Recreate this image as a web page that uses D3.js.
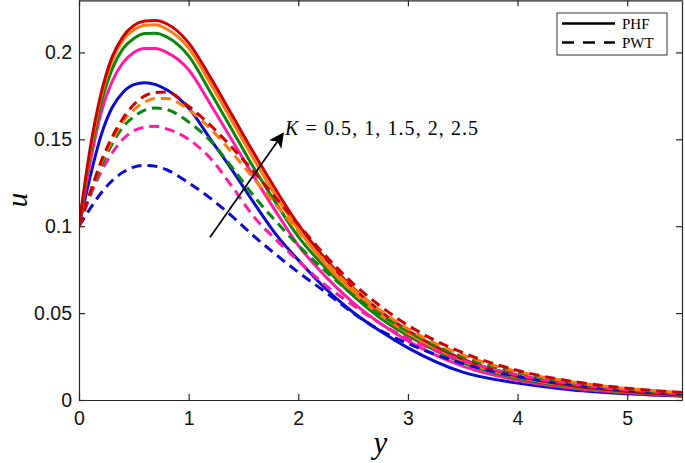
<!DOCTYPE html>
<html>
<head>
<meta charset="utf-8">
<script src="https://cdn.jsdelivr.net/npm/d3@7"></script>
<style>
    body { margin: 0; background: #fff; }
    .axis path, .axis line { stroke: #262626; stroke-width: 1.2; }
    .axis text { font-family: "Liberation Sans", Arial, sans-serif; font-size: 19.5px; fill: #111; }
</style>
</head>
<body>
<div id="chart-area"></div>
<script>

// y values (horizontal axis)
var yValues = [0, 0.1, 0.2, 0.3, 0.4, 0.5, 0.6, 0.7, 0.8, 1.0, 1.2, 1.4, 1.6, 1.8, 2.0, 2.25, 2.5, 2.75, 3.0, 3.5, 4.0, 4.5, 5.0, 5.5];

var kValues = [0.5, 1, 1.5, 2, 2.5];
var colors = ["#0a0ad0", "#ff1aa6", "#0a870a", "#ff7a0a", "#cc0000"];

// PHF (solid)
var phf05 = [0.100, 0.128, 0.152, 0.168, 0.177, 0.1815, 0.1826, 0.1815, 0.1785, 0.168, 0.150, 0.132, 0.113, 0.095, 0.0805, 0.064, 0.0505, 0.0395, 0.030, 0.016, 0.0097, 0.0058, 0.0036, 0.0022];
var phf1  = [0.100, 0.136, 0.165, 0.183, 0.194, 0.200, 0.2023, 0.2022, 0.200, 0.190, 0.170, 0.149, 0.128, 0.108, 0.089, 0.071, 0.056, 0.044, 0.034, 0.0195, 0.0113, 0.0067, 0.0041, 0.0025];
var phf15 = [0.100, 0.140, 0.170, 0.190, 0.202, 0.208, 0.2109, 0.2111, 0.209, 0.198, 0.177, 0.155, 0.133, 0.113, 0.094, 0.076, 0.060, 0.047, 0.037, 0.0215, 0.0125, 0.0075, 0.0045, 0.0027];
var phf2  = [0.100, 0.142, 0.174, 0.195, 0.207, 0.213, 0.2157, 0.2159, 0.2135, 0.2025, 0.182, 0.160, 0.138, 0.117, 0.098, 0.078, 0.062, 0.049, 0.0385, 0.0225, 0.0132, 0.0079, 0.0047, 0.0028];
var phf25 = [0.100, 0.144, 0.176, 0.197, 0.209, 0.2155, 0.2181, 0.2184, 0.2165, 0.2055, 0.1855, 0.1635, 0.1415, 0.1205, 0.101, 0.081, 0.0645, 0.051, 0.040, 0.0235, 0.0138, 0.0082, 0.0049, 0.0029];

// PWT (dashed)
var pwt05 = [0.100, 0.110, 0.119, 0.126, 0.131, 0.134, 0.135, 0.1345, 0.1325, 0.125, 0.116, 0.1055, 0.094, 0.0835, 0.0735, 0.062, 0.050, 0.040, 0.0325, 0.021, 0.0135, 0.0087, 0.0055, 0.0035];
var pwt1  = [0.100, 0.117, 0.131, 0.142, 0.150, 0.155, 0.157, 0.1575, 0.156, 0.150, 0.139, 0.1225, 0.105, 0.092, 0.080, 0.066, 0.0545, 0.044, 0.0355, 0.0228, 0.0145, 0.0092, 0.0058, 0.0037];
var pwt15 = [0.100, 0.118, 0.134, 0.147, 0.157, 0.163, 0.1668, 0.168, 0.1672, 0.160, 0.149, 0.1335, 0.117, 0.1025, 0.089, 0.074, 0.0605, 0.049, 0.0395, 0.0248, 0.0157, 0.0099, 0.0063, 0.004];
var pwt2  = [0.100, 0.119, 0.136, 0.149, 0.160, 0.167, 0.1715, 0.1735, 0.1735, 0.167, 0.156, 0.142, 0.127, 0.112, 0.097, 0.0795, 0.064, 0.0515, 0.041, 0.026, 0.0164, 0.0104, 0.0066, 0.0042];
var pwt25 = [0.100, 0.119, 0.137, 0.151, 0.162, 0.170, 0.175, 0.177, 0.1772, 0.169, 0.158, 0.145, 0.131, 0.116, 0.101, 0.083, 0.067, 0.054, 0.043, 0.0272, 0.0170, 0.0107, 0.0068, 0.0043];

var xTicks = [0, 1, 2, 3, 4, 5];
var xTickLabels = ["0", "1", "2", "3", "4", "5"];
var yTicks = [0, 0.05, 0.1, 0.15, 0.2];
var yTickLabels = ["0", "0.05", "0.1", "0.15", "0.2"];

var legendLabels = ["PHF", "PWT"];

// arrow annotation, in data units (tail, head)
var arrowTail = [1.195, 0.0937];
var arrowHead = [1.861, 0.1534];
var annotationPos = [1.88, 0.1523];


LineChart = function(_parentElement){
    this.parentElement = _parentElement;
    this.series = [];

    this.initVis();
}

LineChart.prototype.initVis = function(){
    var vis = this;

    vis.margin = { top: 0, right: 3, bottom: 63, left: 79 };
    vis.width = 685 - vis.margin.left - vis.margin.right;
    vis.height = 463 - vis.margin.top - vis.margin.bottom;

    vis.root = d3.select("#" + vis.parentElement).append("svg")
        .attr("width", 685)
        .attr("height", 463);

    vis.svg = vis.root.append("g")
        .attr("transform", "translate(" + vis.margin.left + "," + vis.margin.top + ")");

    vis.x = d3.scaleLinear().domain([0, 5.5]).range([0, vis.width]);
    vis.y = d3.scaleLinear().domain([0, 0.23]).range([vis.height, 0.3]);

    vis.svg.append("clipPath").attr("id", "clip")
        .append("rect").attr("width", vis.width).attr("height", vis.height);

    vis.wrangleData();
}

LineChart.prototype.wrangleData = function(){
    var vis = this;

    var solid = [phf05, phf1, phf15, phf2, phf25];
    var dashed = [pwt05, pwt1, pwt15, pwt2, pwt25];

    solid.forEach(function(arr, i){
        vis.series.push({ color: colors[i], dash: null,
            values: arr.map(function(v, j){ return [yValues[j], v]; }) });
    });
    dashed.forEach(function(arr, i){
        vis.series.push({ color: colors[i], dash: "10,6",
            values: arr.map(function(v, j){ return [yValues[j], v]; }) });
    });

    vis.updateVis();
}

LineChart.prototype.updateVis = function(){
    var vis = this;

    var line = d3.line()
        .x(function(d){ return vis.x(d[0]); })
        .y(function(d){ return vis.y(d[1]); })
        .curve(d3.curveMonotoneX);

    vis.svg.append("g").attr("clip-path", "url(#clip)")
        .selectAll(".curve")
        .data(vis.series)
        .enter().append("path")
        .attr("class", "curve")
        .attr("d", function(d){ return line(d.values); })
        .attr("fill", "none")
        .attr("stroke", function(d){ return d.color; })
        .attr("stroke-width", 3)
        .attr("stroke-dasharray", function(d){ return d.dash; });

    // axes, ticks pointing inward
    vis.svg.append("g").attr("class", "axis")
        .attr("transform", "translate(0," + vis.height + ")")
        .call(d3.axisBottom(vis.x).tickValues(xTicks)
            .tickFormat(function(d, i){ return xTickLabels[i]; })
            .tickSizeInner(-6).tickSizeOuter(0).tickPadding(11));

    vis.svg.append("g").attr("class", "axis")
        .call(d3.axisLeft(vis.y).tickValues(yTicks)
            .tickFormat(function(d, i){ return yTickLabels[i]; })
            .tickSizeInner(-6).tickSizeOuter(0).tickPadding(7));

    vis.svg.append("g").attr("class", "axis")
        .attr("transform", "translate(0," + vis.y.range()[1] + ")")
        .call(d3.axisTop(vis.x).tickValues(xTicks).tickFormat("")
            .tickSizeInner(-6).tickSizeOuter(0));

    vis.svg.append("g").attr("class", "axis")
        .attr("transform", "translate(" + vis.width + ",0)")
        .call(d3.axisRight(vis.y).tickValues(yTicks).tickFormat("")
            .tickSizeInner(-6).tickSizeOuter(0));

    // axis titles
    vis.svg.append("text")
        .attr("x", vis.width / 2)
        .attr("y", vis.height + 53)
        .attr("text-anchor", "middle")
        .style("font-family", "'Liberation Serif', 'Times New Roman', serif")
        .style("font-style", "italic")
        .style("font-size", "31px")
        .text("y");

    vis.svg.append("text")
        .attr("transform", "translate(" + (-52) + "," + (vis.height / 2) + ") rotate(-90)")
        .attr("text-anchor", "middle")
        .style("font-family", "'Liberation Serif', 'Times New Roman', serif")
        .style("font-style", "italic")
        .style("font-size", "29px")
        .text("u");

    // arrow
    var defs = vis.root.append("defs");
    defs.append("marker")
        .attr("id", "arrowhead")
        .attr("viewBox", "0 0 10 10")
        .attr("refX", 9).attr("refY", 5)
        .attr("markerWidth", 10).attr("markerHeight", 9)
        .attr("markerUnits", "strokeWidth")
        .attr("orient", "auto")
        .append("path")
        .attr("d", "M0,0 L10,5 L0,10 L2.5,5 Z")
        .attr("fill", "#000");

    vis.svg.append("line")
        .attr("x1", vis.x(arrowTail[0])).attr("y1", vis.y(arrowTail[1]))
        .attr("x2", vis.x(arrowHead[0])).attr("y2", vis.y(arrowHead[1]))
        .attr("stroke", "#000")
        .attr("stroke-width", 1.7)
        .attr("marker-end", "url(#arrowhead)");

    var ann = vis.svg.append("text")
        .attr("x", vis.x(annotationPos[0]))
        .attr("y", vis.y(annotationPos[1]))
        .attr("textLength", 193)
        .attr("lengthAdjust", "spacing")
        .style("font-family", "'Liberation Serif', 'Times New Roman', serif")
        .style("font-size", "20px");
    ann.append("tspan").style("font-style", "italic").text("K");
    ann.append("tspan").text(" = 0.5, 1, 1.5, 2, 2.5");

    // legend
    var lg = vis.svg.append("g")
        .attr("transform", "translate(" + (vis.width - 125) + ",13)");

    lg.append("rect")
        .attr("width", 110).attr("height", 42)
        .attr("fill", "#fff")
        .attr("stroke", "#333")
        .attr("stroke-width", 1);

    legendLabels.forEach(function(lab, i){
        var yy = 10.5 + i * 19;
        lg.append("line")
            .attr("x1", 5).attr("x2", 58)
            .attr("y1", yy).attr("y2", yy)
            .attr("stroke", "#000")
            .attr("stroke-width", 2.6)
            .attr("stroke-dasharray", i === 0 ? null : "12,9");
        lg.append("text")
            .attr("x", 65).attr("y", yy + 5)
            .style("font-family", "'Liberation Serif', 'Times New Roman', serif")
            .style("font-size", "15px")
            .text(lab);
    });
}

var chart = new LineChart("chart-area");

</script>
</body>
</html>
